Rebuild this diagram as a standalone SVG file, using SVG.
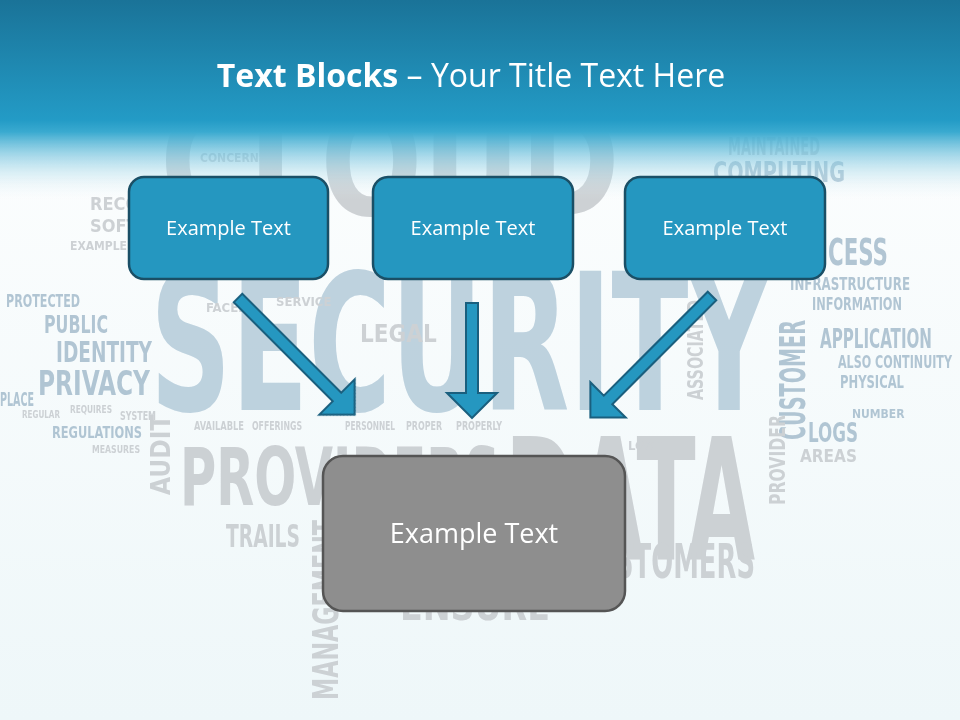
<svg xmlns="http://www.w3.org/2000/svg" width="960" height="720" viewBox="0 0 960 720">
<defs>
<linearGradient id="hdr" x1="0" y1="0" x2="0" y2="1">
<stop offset="0" stop-color="#1a7398"/>
<stop offset="0.6" stop-color="#239bc6"/>
<stop offset="0.66" stop-color="#3aaad0"/>
<stop offset="1" stop-color="#f0f8fa" stop-opacity="0"/>
</linearGradient>
<linearGradient id="bg" x1="0" y1="0" x2="0" y2="1">
<stop offset="0" stop-color="#ffffff"/>
<stop offset="1" stop-color="#eef7f9"/>
</linearGradient>
</defs>
<style>
.box{fill:#2597c0;stroke:#1a4f66;stroke-width:2.5}
.gbox{fill:#8e8e8e;stroke:#555;stroke-width:2.5}
.lbl{font-family:"Open Sans","Liberation Sans",sans-serif;fill:#fff;text-anchor:middle}
.arrow{fill:#2597c0;stroke:#1a5f7e;stroke-width:2}
.w{font-family:"Liberation Sans Narrow","DejaVu Sans Condensed","Liberation Sans",sans-serif;font-weight:bold}
.b{fill:#b7cddb}
.g{fill:#c8ccd0}
.s{fill:#a9bfcf}
</style>
<rect width="960" height="720" fill="url(#bg)"/>
<g id="wordcloud" opacity="0.9">
<text class="w g" x="160" y="215" font-size="150" textLength="460" lengthAdjust="spacingAndGlyphs">CLOUD</text>
<text class="w b" x="150" y="410" font-size="190" textLength="620" lengthAdjust="spacingAndGlyphs">SECURITY</text>
<text class="w g" x="505" y="560" font-size="170" textLength="250" lengthAdjust="spacingAndGlyphs">DATA</text>
<text class="w g" x="180" y="505" font-size="80" textLength="320" lengthAdjust="spacingAndGlyphs">PROVIDERS</text>
<text class="w g" x="615" y="578" font-size="48" textLength="140" lengthAdjust="spacingAndGlyphs">STOMERS</text>
<text class="w g" x="226" y="547" font-size="32" textLength="74" lengthAdjust="spacingAndGlyphs">TRAILS</text>
<text class="w g" x="400" y="620" font-size="40" textLength="150" lengthAdjust="spacingAndGlyphs">ENSURE</text>
<text class="w g" transform="translate(338,700) rotate(-90)" font-size="36" textLength="180" lengthAdjust="spacingAndGlyphs">MANAGEMENT</text>
<text class="w s" x="38" y="395" font-size="34" textLength="112" lengthAdjust="spacingAndGlyphs">PRIVACY</text>
<text class="w s" x="56" y="362" font-size="28" textLength="96" lengthAdjust="spacingAndGlyphs">IDENTITY</text>
<text class="w s" x="44" y="333" font-size="24" textLength="64" lengthAdjust="spacingAndGlyphs">PUBLIC</text>
<text class="w s" x="6" y="307" font-size="18" textLength="74" lengthAdjust="spacingAndGlyphs">PROTECTED</text>
<text class="w s" x="0" y="406" font-size="20" textLength="34" lengthAdjust="spacingAndGlyphs">PLACE</text>
<text class="w s" x="52" y="438" font-size="16" textLength="90" lengthAdjust="spacingAndGlyphs">REGULATIONS</text>
<text class="w g" x="92" y="453" font-size="11" textLength="48" lengthAdjust="spacingAndGlyphs">MEASURES</text>
<text class="w g" x="120" y="420" font-size="12" textLength="36" lengthAdjust="spacingAndGlyphs">SYSTEM</text>
<text class="w g" x="70" y="413" font-size="11" textLength="42" lengthAdjust="spacingAndGlyphs">REQUIRES</text>
<text class="w g" x="22" y="418" font-size="10" textLength="38" lengthAdjust="spacingAndGlyphs">REGULAR</text>
<text class="w g" transform="translate(170,495) rotate(-90)" font-size="26">AUDIT</text>
<text class="w g" x="194" y="430" font-size="13" textLength="50" lengthAdjust="spacingAndGlyphs">AVAILABLE</text>
<text class="w g" x="252" y="430" font-size="13" textLength="50" lengthAdjust="spacingAndGlyphs">OFFERINGS</text>
<text class="w g" x="345" y="430" font-size="12" textLength="50" lengthAdjust="spacingAndGlyphs">PERSONNEL</text>
<text class="w g" x="406" y="430" font-size="12" textLength="36" lengthAdjust="spacingAndGlyphs">PROPER</text>
<text class="w g" x="456" y="430" font-size="12" textLength="46" lengthAdjust="spacingAndGlyphs">PROPERLY</text>
<text class="w g" x="728" y="155" font-size="24" textLength="92" lengthAdjust="spacingAndGlyphs" fill="#c0d0dc">MAINTAINED</text>
<text class="w s" x="713" y="182" font-size="28" textLength="132" lengthAdjust="spacingAndGlyphs">COMPUTING</text>
<text class="w s" x="828" y="265" font-size="38" textLength="60" lengthAdjust="spacingAndGlyphs">CESS</text>
<text class="w s" x="790" y="290" font-size="18" textLength="120" lengthAdjust="spacingAndGlyphs">INFRASTRUCTURE</text>
<text class="w s" x="812" y="310" font-size="18" textLength="90" lengthAdjust="spacingAndGlyphs">INFORMATION</text>
<text class="w s" x="820" y="348" font-size="26" textLength="112" lengthAdjust="spacingAndGlyphs">APPLICATION</text>
<text class="w s" x="838" y="368" font-size="18" textLength="114" lengthAdjust="spacingAndGlyphs">ALSO CONTINUITY</text>
<text class="w s" x="840" y="388" font-size="17" textLength="64" lengthAdjust="spacingAndGlyphs">PHYSICAL</text>
<text class="w s" x="808" y="442" font-size="26" textLength="50" lengthAdjust="spacingAndGlyphs">LOGS</text>
<text class="w g" x="800" y="462" font-size="17">AREAS</text>
<text class="w s" transform="translate(805,440) rotate(-90)" font-size="36" textLength="120" lengthAdjust="spacingAndGlyphs">CUSTOMER</text>
<text class="w g" transform="translate(785,505) rotate(-90)" font-size="22" textLength="90" lengthAdjust="spacingAndGlyphs">PROVIDER</text>
<text class="w g" transform="translate(703,400) rotate(-90)" font-size="22" textLength="100" lengthAdjust="spacingAndGlyphs">ASSOCIATED</text>
<text class="w g" x="200" y="162" font-size="12">CONCERNS</text>
<text class="w g" x="90" y="210" font-size="18">RECO</text>
<text class="w g" x="90" y="232" font-size="18">SOFTV</text>
<text class="w g" x="70" y="250" font-size="12">EXAMPLE</text>
<text class="w g" x="276" y="306" font-size="13">SERVICE</text>
<text class="w g" x="206" y="312" font-size="13">FACED</text>
<text class="w g" x="360" y="342" font-size="24">LEGAL</text>
<text class="w g" x="628" y="450" font-size="13">LOST</text>
<text class="w s" x="852" y="418" font-size="12">NUMBER</text>
</g>
<rect width="960" height="200" fill="url(#hdr)"/>
<text x="471" y="87" text-anchor="middle" font-family="'Open Sans','Liberation Sans',sans-serif" font-size="32" fill="#fff"><tspan font-weight="bold">Text Blocks</tspan> – Your Title Text Here</text>
<g id="connectors">
<polygon class="arrow" transform="translate(238,298) rotate(45)" points="0,-6 140,-6 140,-25 165,0 140,25 140,6 0,6"/>
<polygon class="arrow" transform="translate(472,303) rotate(90)" points="0,-6 90,-6 90,-25 115,0 90,25 90,6 0,6"/>
<polygon class="arrow" transform="translate(712,296) rotate(135)" points="0,-6 147,-6 147,-25 172,0 147,25 147,6 0,6"/>
</g>
<g id="node1"><rect class="box" x="129" y="177" width="199" height="102" rx="15"/><text class="lbl" x="228.5" y="235" font-size="20">Example Text</text></g>
<g id="node2"><rect class="box" x="373" y="177" width="200" height="102" rx="15"/><text class="lbl" x="473" y="235" font-size="20">Example Text</text></g>
<g id="node3"><rect class="box" x="625" y="177" width="200" height="102" rx="15"/><text class="lbl" x="725" y="235" font-size="20">Example Text</text></g>
<g id="node4"><rect class="gbox" x="323" y="456" width="302" height="155" rx="20"/><text class="lbl" x="474" y="543" font-size="27">Example Text</text></g>
</svg>
